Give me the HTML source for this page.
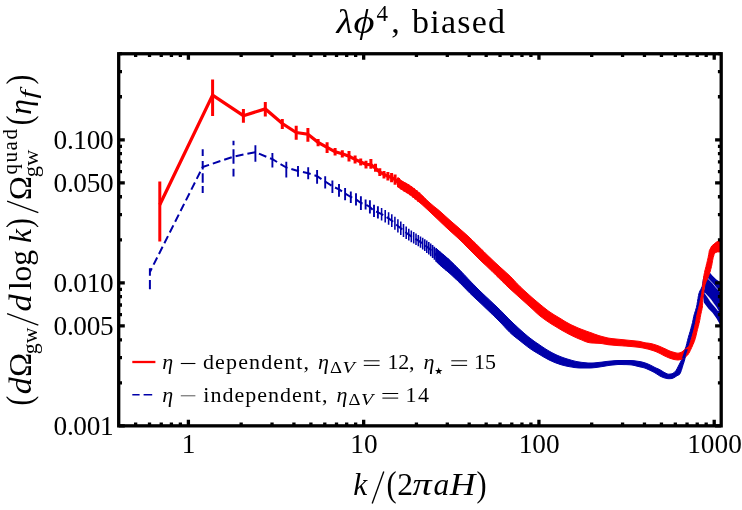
<!DOCTYPE html>
<html><head><meta charset="utf-8"><title>plot</title>
<style>html,body{margin:0;padding:0;background:#fff;}body{width:742px;height:510px;overflow:hidden;font-family:"Liberation Serif",serif;}svg{display:block;will-change:transform;}</style>
</head><body>
<svg width="742" height="510" viewBox="0 0 742 510">
<rect width="742" height="510" fill="#fff"/>
<defs><clipPath id="cp"><rect x="118.70" y="53.75" width="602.50" height="372.10"/></clipPath></defs>
<g clip-path="url(#cp)">
<path d="M149.9 272.0 L202.7 167.0 L233.5 156.6 L255.4 152.2 L272.4 159.2 L286.3 167.5 L298.0 171.0 L308.2 173.2 L317.1 176.2 L325.2 181.5 L332.4 186.2 L339.0 189.4 L345.1 193.5 L350.8 197.0 L356.0 199.4 L360.9 203.0 L365.6 204.5 L369.9 207.0 L374.0 211.0 L377.9 212.3 L381.6 214.2 L385.2 216.3 L388.6 218.4 L391.8 220.7 L394.9 223.3 L397.9 225.9 L400.8 228.3 L403.5 230.5 L406.2 232.7 L408.8 234.6 L411.3 236.4 L413.7 237.8 L416.0 239.2 L418.3 240.6 L420.5 242.1 L422.7 243.6 L424.8 245.2 L426.8 246.7 L428.8 248.3 L430.7 249.9 L432.6 251.6 L434.4 253.3 L436.2 255.0 L437.9 256.6 L439.7 258.1" fill="none" stroke="#0000a9" stroke-width="2.0" stroke-dasharray="8 4" stroke-dashoffset="3.8" stroke-linejoin="round"/>
<path d="M149.9 268.2V275.8M149.9 280.1V289.3M202.7 149.3V156.0M202.7 161.1V169.4M202.7 173.2V182.8M202.7 186.0V193.0M233.5 140.7V145.2M233.5 149.3V163.7M233.5 168.8V176.4" stroke="#0000a9" stroke-width="2.0" fill="none"/>
<path d="M255.4 145.2V161.8M272.4 152.9V167.5M286.3 161.7V177.5M298.0 166.0V176.8M308.2 167.3V179.2M317.1 170.0V183.8M325.2 176.2V188.5M332.4 180.6V193.0M339.0 184.1V196.8M345.1 188.0V200.3M350.8 191.5V203.0M356.0 193.2V205.6M360.9 196.2V210.0M365.6 199.4V209.5M369.9 200.3V213.5M374.0 204.7V217.0M377.9 206.2V218.5" stroke="#0000a9" stroke-width="1.9" fill="none"/>
<path d="M381.6 208.1V220.4M385.2 210.1V222.5M388.6 212.2V224.7M391.8 214.3V227.1M394.9 216.8V229.8M397.9 219.2V232.5M400.8 221.6V234.9M403.5 224.1V237.0M406.2 226.5V238.9M408.8 228.7V240.6M411.3 230.5V242.2M413.7 232.1V243.6M416.0 233.5V244.9M418.3 234.9V246.3M420.5 236.4V247.8M422.7 237.8V249.4M424.8 239.2V251.1M426.8 240.6V252.9M428.8 242.1V254.6M430.7 243.5V256.3M432.6 245.1V258.1M434.4 246.7V259.8M436.2 248.4V261.5M437.9 250.0V263.2M439.7 251.5V264.8M441.3 252.9V266.3M443.0 254.3V267.7M444.6 255.7V269.0M446.1 257.0V270.4M447.7 258.3V271.7M449.2 259.7V273.0" stroke="#0000a9" stroke-width="1.55" fill="none"/>
<path d="M436.0 248.2 L438.0 250.0 L440.0 251.8 L442.0 253.5 L444.0 255.2 L446.0 256.9 L448.0 258.6 L450.0 260.4 L452.0 262.3 L454.0 264.2 L456.0 266.2 L458.0 268.2 L460.0 270.2 L462.0 272.3 L464.0 274.4 L466.0 276.5 L468.0 278.7 L470.0 280.8 L472.0 282.9 L474.0 284.9 L476.0 287.0 L478.0 289.0 L480.0 291.0 L482.0 292.9 L484.0 294.8 L486.0 296.7 L488.0 298.5 L490.0 300.4 L492.0 302.3 L494.0 304.2 L496.0 306.0 L498.0 308.0 L500.0 309.9 L502.0 311.9 L504.0 314.0 L506.0 316.0 L508.0 318.1 L510.0 320.1 L512.0 322.0 L514.0 324.0 L516.0 325.8 L518.0 327.7 L520.0 329.5 L522.0 331.3 L524.0 333.1 L526.0 334.8 L528.0 336.5 L530.0 338.1 L532.0 339.6 L534.0 341.1 L536.0 342.5 L538.0 343.8 L540.0 345.2 L542.0 346.6 L544.0 347.9 L546.0 349.2 L548.0 350.4 L550.0 351.6 L552.0 352.7 L554.0 353.7 L556.0 354.7 L558.0 355.6 L560.0 356.4 L562.0 357.2 L564.0 357.9 L566.0 358.6 L568.0 359.2 L570.0 359.8 L572.0 360.4 L574.0 360.9 L576.0 361.4 L578.0 361.8 L580.0 362.1 L582.0 362.4 L584.0 362.6 L586.0 362.8 L588.0 363.0 L590.0 363.0 L592.0 363.0 L594.0 362.9 L596.0 362.7 L598.0 362.5 L600.0 362.3 L602.0 362.1 L604.0 361.8 L606.0 361.5 L608.0 361.3 L610.0 361.1 L612.0 360.9 L614.0 360.7 L616.0 360.6 L618.0 360.5 L620.0 360.5 L622.0 360.5 L624.0 360.5 L626.0 360.5 L628.0 360.5 L630.0 360.5 L632.0 360.6 L634.0 360.7 L636.0 361.0 L638.0 361.3 L640.0 361.6 L642.0 362.0 L644.0 362.6 L646.0 363.2 L648.0 364.0 L650.0 364.9 L652.0 365.9 L654.0 367.0 L656.0 368.0 L658.0 368.8 L660.0 369.8 L662.0 371.0 L664.0 372.3 L666.0 373.3 L668.0 374.2 L670.0 374.1 L672.0 373.8 L674.0 372.7 L676.0 370.5 L677.0 368.8 L681.5 360.0 L682.0 358.5 L682.4 357.0 L682.9 355.5 L683.4 354.0 L683.9 352.5 L684.4 351.0 L684.9 349.5 L685.5 348.0 L686.0 346.5 L686.4 345.0 L686.8 343.5 L687.1 342.0 L687.5 340.5 L687.9 339.0 L688.3 337.5 L688.7 336.0 L689.2 334.5 L689.6 333.0 L690.1 331.5 L690.5 330.0 L690.9 328.5 L691.3 327.0 L691.7 325.5 L692.1 324.0 L692.5 322.5 L692.8 321.0 L693.1 319.5 L693.4 318.0 L693.7 316.5 L694.1 315.0 L694.5 313.5 L695.0 312.0 L695.5 310.5 L695.9 309.0 L696.4 307.5 L696.7 306.0 L697.0 304.5 L697.2 303.0 L697.5 301.5 L697.7 300.0 L698.0 298.5 L698.2 297.0 L698.5 295.5 L698.8 294.0 L699.3 292.5 L699.9 291.0 L700.7 289.5 L701.5 288.0 L702.1 286.5 L702.5 285.0 L702.7 283.5 L702.9 282.0 L703.1 280.5 L703.4 279.0 L703.8 277.5 L704.3 276.0 L704.9 274.5 L705.9 273.0 L707.2 271.5 L709.8 271.5 L708.9 273.0 L708.0 274.5 L707.2 276.0 L706.4 277.5 L705.8 279.0 L705.4 280.5 L705.0 282.0 L704.7 283.5 L704.4 285.0 L704.0 286.5 L703.6 288.0 L703.1 289.5 L702.7 291.0 L702.3 292.5 L702.0 294.0 L701.7 295.5 L701.5 297.0 L701.3 298.5 L701.1 300.0 L700.9 301.5 L700.6 303.0 L700.4 304.5 L700.0 306.0 L699.6 307.5 L699.2 309.0 L698.7 310.5 L698.3 312.0 L697.8 313.5 L697.4 315.0 L697.0 316.5 L696.7 318.0 L696.4 319.5 L696.1 321.0 L695.8 322.5 L695.4 324.0 L695.0 325.5 L694.6 327.0 L694.2 328.5 L693.8 330.0 L693.4 331.5 L693.0 333.0 L692.5 334.5 L692.1 336.0 L691.7 337.5 L691.3 339.0 L690.8 340.5 L690.4 342.0 L689.9 343.5 L689.5 345.0 L689.0 346.5 L688.4 348.0 L687.8 349.5 L687.2 351.0 L686.7 352.5 L686.2 354.0 L685.8 355.5 L685.4 357.0 L685.0 358.5 L684.6 360.0 L684.2 361.5 L683.7 363.0 L683.2 364.5 L682.7 366.0 L682.3 367.5 L681.8 369.0 L681.3 370.5 L680.8 372.0 L680.1 373.5 L679.4 374.6 L677.0 375.7 L676.0 376.4 L674.0 377.7 L672.0 378.5 L670.0 378.7 L668.0 378.7 L666.0 378.3 L664.0 377.8 L662.0 377.0 L660.0 376.1 L658.0 374.8 L656.0 373.5 L654.0 372.3 L652.0 371.3 L650.0 370.3 L648.0 369.4 L646.0 368.5 L644.0 367.8 L642.0 367.3 L640.0 366.9 L638.0 366.4 L636.0 365.9 L634.0 365.4 L632.0 365.0 L630.0 364.8 L628.0 364.7 L626.0 364.6 L624.0 364.6 L622.0 364.5 L620.0 364.5 L618.0 364.5 L616.0 364.7 L614.0 364.9 L612.0 365.1 L610.0 365.3 L608.0 365.6 L606.0 365.9 L604.0 366.3 L602.0 366.6 L600.0 366.9 L598.0 367.2 L596.0 367.5 L594.0 367.7 L592.0 367.9 L590.0 368.0 L588.0 368.0 L586.0 368.0 L584.0 368.0 L582.0 368.0 L580.0 368.0 L578.0 367.9 L576.0 367.7 L574.0 367.5 L572.0 367.1 L570.0 366.8 L568.0 366.4 L566.0 366.0 L564.0 365.5 L562.0 365.0 L560.0 364.4 L558.0 363.7 L556.0 363.0 L554.0 362.2 L552.0 361.3 L550.0 360.4 L548.0 359.4 L546.0 358.3 L544.0 357.2 L542.0 356.0 L540.0 354.8 L538.0 353.6 L536.0 352.4 L534.0 351.2 L532.0 349.9 L530.0 348.6 L528.0 347.1 L526.0 345.6 L524.0 344.0 L522.0 342.4 L520.0 340.8 L518.0 339.2 L516.0 337.7 L514.0 336.1 L512.0 334.4 L510.0 332.6 L508.0 330.6 L506.0 328.5 L504.0 326.3 L502.0 324.1 L500.0 322.0 L498.0 320.0 L496.0 318.0 L494.0 316.1 L492.0 314.1 L490.0 312.2 L488.0 310.3 L486.0 308.4 L484.0 306.5 L482.0 304.6 L480.0 302.7 L478.0 300.8 L476.0 299.0 L474.0 297.1 L472.0 295.2 L470.0 293.3 L468.0 291.3 L466.0 289.2 L464.0 287.2 L462.0 285.1 L460.0 283.1 L458.0 281.2 L456.0 279.2 L454.0 277.4 L452.0 275.5 L450.0 273.7 L448.0 271.9 L446.0 270.2 L444.0 268.6 L442.0 266.9 L440.0 265.1 L438.0 263.3 L436.0 261.3Z" fill="#0000a9" stroke="#0000a9" stroke-width="1.0" stroke-linejoin="round"/>
<path d="M703 296 L706 279 L708.9 271.6 L712.5 275.8 L716.4 279.4 L722 283.2 L722 328 L719.5 323.7 L716.4 318.2 L712.5 312.7 L708.5 308.8 L703.8 302.5Z" fill="#0000a9"/>
<path d="M707.5 278 L712.5 283.2 L716.4 287.9 L720.5 292" stroke="#fff" stroke-width="0.7" fill="none"/>
<path d="M704.6 292.8 L708 296.3 L710.9 299.6 L714 304 L716.4 307.3 L718.4 311 L714 305.8 L710.9 302.2 L708 297.8Z" fill="#fff" stroke="#fff" stroke-width="0.5"/>
<path d="M398.0 177.4 L400.0 179.6 L402.0 181.0 L404.0 182.2 L406.0 183.3 L408.0 184.4 L410.0 185.7 L412.0 187.1 L414.0 188.6 L416.0 190.2 L418.0 191.8 L420.0 193.5 L422.0 195.3 L424.0 197.2 L426.0 199.2 L428.0 201.2 L430.0 203.0 L432.0 204.7 L434.0 206.4 L436.0 208.0 L438.0 209.6 L440.0 211.3 L442.0 213.1 L444.0 214.9 L446.0 216.7 L448.0 218.5 L450.0 220.3 L452.0 222.1 L454.0 223.8 L456.0 225.5 L458.0 227.2 L460.0 229.0 L462.0 230.8 L464.0 232.5 L466.0 234.3 L468.0 236.1 L470.0 238.0 L472.0 239.9 L474.0 241.9 L476.0 243.8 L478.0 245.8 L480.0 247.8 L482.0 249.8 L484.0 251.7 L486.0 253.7 L488.0 255.7 L490.0 257.6 L492.0 259.5 L494.0 261.4 L496.0 263.3 L498.0 265.1 L500.0 267.0 L502.0 268.8 L504.0 270.6 L506.0 272.4 L508.0 274.2 L510.0 276.1 L512.0 278.1 L514.0 280.2 L516.0 282.4 L518.0 284.5 L520.0 286.5 L522.0 288.4 L524.0 290.3 L526.0 292.1 L528.0 293.9 L530.0 295.7 L532.0 297.5 L534.0 299.2 L536.0 300.9 L538.0 302.6 L540.0 304.3 L542.0 305.9 L544.0 307.6 L546.0 309.1 L548.0 310.7 L550.0 312.1 L552.0 313.4 L554.0 314.7 L556.0 315.9 L558.0 317.1 L560.0 318.3 L562.0 319.5 L564.0 320.8 L566.0 322.0 L568.0 323.1 L570.0 324.2 L572.0 325.2 L574.0 326.1 L576.0 327.0 L578.0 327.9 L580.0 328.7 L582.0 329.5 L584.0 330.2 L586.0 331.0 L588.0 331.7 L590.0 332.4 L592.0 333.1 L594.0 333.9 L596.0 334.6 L598.0 335.3 L600.0 335.9 L602.0 336.5 L604.0 337.0 L606.0 337.5 L608.0 338.0 L610.0 338.3 L612.0 338.6 L614.0 338.8 L616.0 339.0 L618.0 339.2 L620.0 339.4 L622.0 339.6 L624.0 339.8 L626.0 340.0 L628.0 340.2 L630.0 340.4 L632.0 340.6 L634.0 340.8 L636.0 341.0 L638.0 341.2 L640.0 341.5 L642.0 342.0 L644.0 342.5 L646.0 342.9 L648.0 343.1 L650.0 343.4 L652.0 343.8 L654.0 344.4 L656.0 345.0 L658.0 345.7 L660.0 346.5 L662.0 347.4 L664.0 348.3 L666.0 349.2 L668.0 350.2 L670.0 351.1 L672.0 351.8 L674.0 352.3 L676.0 352.9 L678.0 353.2 L680.0 352.8 L682.0 351.9 L684.0 350.2 L684.2 350.0 L688.9 346.4 L689.0 346.0 L689.6 344.5 L690.1 343.0 L690.6 341.5 L691.0 340.0 L691.5 338.5 L692.0 337.0 L692.4 335.5 L692.8 334.0 L693.2 332.5 L693.6 331.0 L694.0 329.5 L694.4 328.0 L694.7 326.5 L695.0 325.0 L695.4 323.5 L695.7 322.0 L695.9 320.5 L696.2 319.0 L696.4 317.5 L696.7 316.0 L697.0 314.5 L697.4 313.0 L697.7 311.5 L698.1 310.0 L698.5 308.5 L698.9 307.0 L699.2 305.5 L699.6 304.0 L699.9 302.5 L700.2 301.0 L700.5 299.5 L700.8 298.0 L701.1 296.5 L701.4 295.0 L701.7 293.5 L701.9 292.0 L702.1 290.5 L702.3 289.0 L702.5 287.5 L702.6 286.0 L702.8 284.5 L703.0 283.0 L703.2 281.5 L703.3 280.0 L703.5 278.5 L703.7 277.0 L703.9 275.5 L704.2 274.0 L704.5 272.5 L704.8 271.0 L705.2 269.5 L705.6 268.0 L706.0 266.5 L706.3 265.0 L706.7 263.5 L707.1 262.0 L707.4 260.5 L707.8 259.0 L708.1 257.5 L708.4 256.0 L708.7 254.5 L709.0 253.0 L709.3 250.7 L711.7 246 L716.4 242.1 L719.9 240.5 L722 240.3 L722 251.9 L717.2 251.9 L714.8 253 L714.6 253.0 L714.1 254.5 L713.7 256.0 L713.2 257.5 L712.9 259.0 L712.6 260.5 L712.3 262.0 L712.1 263.5 L711.8 265.0 L711.5 266.5 L711.1 268.0 L710.7 269.5 L710.3 271.0 L709.8 272.5 L709.3 274.0 L708.8 275.5 L708.2 277.0 L707.6 278.5 L706.9 280.0 L706.2 281.5 L705.6 283.0 L705.1 284.5 L704.7 286.0 L704.4 287.5 L704.1 289.0 L703.9 290.5 L703.7 292.0 L703.5 293.5 L703.3 295.0 L703.1 296.5 L702.9 298.0 L702.7 299.5 L702.7 301.0 L702.6 302.5 L702.6 304.0 L702.5 305.5 L702.4 307.0 L702.1 308.5 L701.8 310.0 L701.5 311.5 L701.1 313.0 L700.8 314.5 L700.5 316.0 L700.2 317.5 L700.0 319.0 L699.7 320.5 L699.4 322.0 L699.0 323.5 L698.7 325.0 L698.3 326.5 L697.9 328.0 L697.5 329.5 L697.1 331.0 L696.8 332.5 L696.4 334.0 L696.1 335.5 L695.7 337.0 L695.3 338.5 L694.8 340.0 L694.3 341.5 L693.7 343.0 L693.0 344.5 L692.4 346.0 L691.7 347.5 L691.0 349.0 L690.3 350.5 L689.6 352.0 L688.7 353.5 L687.7 355.0 L686.0 356.5 L685.6 356.8 L684.2 357.8 L684.0 357.9 L682.0 359.0 L680.0 359.7 L678.0 360.0 L676.0 359.8 L674.0 359.5 L672.0 358.9 L670.0 358.3 L668.0 357.5 L666.0 356.6 L664.0 355.7 L662.0 354.6 L660.0 353.5 L658.0 352.6 L656.0 351.7 L654.0 350.9 L652.0 350.3 L650.0 349.7 L648.0 349.1 L646.0 348.7 L644.0 348.2 L642.0 347.8 L640.0 347.5 L638.0 347.2 L636.0 347.0 L634.0 346.8 L632.0 346.6 L630.0 346.4 L628.0 346.3 L626.0 346.1 L624.0 346.0 L622.0 345.8 L620.0 345.7 L618.0 345.6 L616.0 345.4 L614.0 345.3 L612.0 345.1 L610.0 344.9 L608.0 344.7 L606.0 344.3 L604.0 344.0 L602.0 343.6 L600.0 343.4 L598.0 343.3 L596.0 343.2 L594.0 343.1 L592.0 343.0 L590.0 342.8 L588.0 342.4 L586.0 341.8 L584.0 341.0 L582.0 340.1 L580.0 339.3 L578.0 338.5 L576.0 337.6 L574.0 336.7 L572.0 335.7 L570.0 334.7 L568.0 333.7 L566.0 332.6 L564.0 331.5 L562.0 330.4 L560.0 329.2 L558.0 328.0 L556.0 326.8 L554.0 325.6 L552.0 324.4 L550.0 323.1 L548.0 321.8 L546.0 320.4 L544.0 319.0 L542.0 317.5 L540.0 316.0 L538.0 314.3 L536.0 312.5 L534.0 310.6 L532.0 308.7 L530.0 306.9 L528.0 305.1 L526.0 303.3 L524.0 301.5 L522.0 299.7 L520.0 297.9 L518.0 296.1 L516.0 294.3 L514.0 292.5 L512.0 290.7 L510.0 288.9 L508.0 287.0 L506.0 285.1 L504.0 283.1 L502.0 281.2 L500.0 279.2 L498.0 277.2 L496.0 275.3 L494.0 273.3 L492.0 271.3 L490.0 269.4 L488.0 267.5 L486.0 265.6 L484.0 263.8 L482.0 261.9 L480.0 260.0 L478.0 258.0 L476.0 256.0 L474.0 254.0 L472.0 252.0 L470.0 250.0 L468.0 248.0 L466.0 246.0 L464.0 243.9 L462.0 241.9 L460.0 240.0 L458.0 238.1 L456.0 236.3 L454.0 234.5 L452.0 232.7 L450.0 230.9 L448.0 229.0 L446.0 227.2 L444.0 225.3 L442.0 223.4 L440.0 221.5 L438.0 219.6 L436.0 217.7 L434.0 215.8 L432.0 213.9 L430.0 212.0 L428.0 210.1 L426.0 208.3 L424.0 206.4 L422.0 204.6 L420.0 202.9 L418.0 201.2 L416.0 199.5 L414.0 197.9 L412.0 196.3 L410.0 194.8 L408.0 193.4 L406.0 192.2 L404.0 191.0 L402.0 189.7 L400.0 188.4 L398.0 186.9Z" fill="#ff0000" stroke="#ff0000" stroke-width="1.0" stroke-linejoin="round"/>
<clipPath id="cx"><rect x="670" y="349.3" width="30" height="9.2"/></clipPath>
<path d="M436.0 248.2 L438.0 250.0 L440.0 251.8 L442.0 253.5 L444.0 255.2 L446.0 256.9 L448.0 258.6 L450.0 260.4 L452.0 262.3 L454.0 264.2 L456.0 266.2 L458.0 268.2 L460.0 270.2 L462.0 272.3 L464.0 274.4 L466.0 276.5 L468.0 278.7 L470.0 280.8 L472.0 282.9 L474.0 284.9 L476.0 287.0 L478.0 289.0 L480.0 291.0 L482.0 292.9 L484.0 294.8 L486.0 296.7 L488.0 298.5 L490.0 300.4 L492.0 302.3 L494.0 304.2 L496.0 306.0 L498.0 308.0 L500.0 309.9 L502.0 311.9 L504.0 314.0 L506.0 316.0 L508.0 318.1 L510.0 320.1 L512.0 322.0 L514.0 324.0 L516.0 325.8 L518.0 327.7 L520.0 329.5 L522.0 331.3 L524.0 333.1 L526.0 334.8 L528.0 336.5 L530.0 338.1 L532.0 339.6 L534.0 341.1 L536.0 342.5 L538.0 343.8 L540.0 345.2 L542.0 346.6 L544.0 347.9 L546.0 349.2 L548.0 350.4 L550.0 351.6 L552.0 352.7 L554.0 353.7 L556.0 354.7 L558.0 355.6 L560.0 356.4 L562.0 357.2 L564.0 357.9 L566.0 358.6 L568.0 359.2 L570.0 359.8 L572.0 360.4 L574.0 360.9 L576.0 361.4 L578.0 361.8 L580.0 362.1 L582.0 362.4 L584.0 362.6 L586.0 362.8 L588.0 363.0 L590.0 363.0 L592.0 363.0 L594.0 362.9 L596.0 362.7 L598.0 362.5 L600.0 362.3 L602.0 362.1 L604.0 361.8 L606.0 361.5 L608.0 361.3 L610.0 361.1 L612.0 360.9 L614.0 360.7 L616.0 360.6 L618.0 360.5 L620.0 360.5 L622.0 360.5 L624.0 360.5 L626.0 360.5 L628.0 360.5 L630.0 360.5 L632.0 360.6 L634.0 360.7 L636.0 361.0 L638.0 361.3 L640.0 361.6 L642.0 362.0 L644.0 362.6 L646.0 363.2 L648.0 364.0 L650.0 364.9 L652.0 365.9 L654.0 367.0 L656.0 368.0 L658.0 368.8 L660.0 369.8 L662.0 371.0 L664.0 372.3 L666.0 373.3 L668.0 374.2 L670.0 374.1 L672.0 373.8 L674.0 372.7 L676.0 370.5 L677.0 368.8 L681.5 360.0 L682.0 358.5 L682.4 357.0 L682.9 355.5 L683.4 354.0 L683.9 352.5 L684.4 351.0 L684.9 349.5 L685.5 348.0 L686.0 346.5 L686.4 345.0 L686.8 343.5 L687.1 342.0 L687.5 340.5 L687.9 339.0 L688.3 337.5 L688.7 336.0 L689.2 334.5 L689.6 333.0 L690.1 331.5 L690.5 330.0 L690.9 328.5 L691.3 327.0 L691.7 325.5 L692.1 324.0 L692.5 322.5 L692.8 321.0 L693.1 319.5 L693.4 318.0 L693.7 316.5 L694.1 315.0 L694.5 313.5 L695.0 312.0 L695.5 310.5 L695.9 309.0 L696.4 307.5 L696.7 306.0 L697.0 304.5 L697.2 303.0 L697.5 301.5 L697.7 300.0 L698.0 298.5 L698.2 297.0 L698.5 295.5 L698.8 294.0 L699.3 292.5 L699.9 291.0 L700.7 289.5 L701.5 288.0 L702.1 286.5 L702.5 285.0 L702.7 283.5 L702.9 282.0 L703.1 280.5 L703.4 279.0 L703.8 277.5 L704.3 276.0 L704.9 274.5 L705.9 273.0 L707.2 271.5 L709.8 271.5 L708.9 273.0 L708.0 274.5 L707.2 276.0 L706.4 277.5 L705.8 279.0 L705.4 280.5 L705.0 282.0 L704.7 283.5 L704.4 285.0 L704.0 286.5 L703.6 288.0 L703.1 289.5 L702.7 291.0 L702.3 292.5 L702.0 294.0 L701.7 295.5 L701.5 297.0 L701.3 298.5 L701.1 300.0 L700.9 301.5 L700.6 303.0 L700.4 304.5 L700.0 306.0 L699.6 307.5 L699.2 309.0 L698.7 310.5 L698.3 312.0 L697.8 313.5 L697.4 315.0 L697.0 316.5 L696.7 318.0 L696.4 319.5 L696.1 321.0 L695.8 322.5 L695.4 324.0 L695.0 325.5 L694.6 327.0 L694.2 328.5 L693.8 330.0 L693.4 331.5 L693.0 333.0 L692.5 334.5 L692.1 336.0 L691.7 337.5 L691.3 339.0 L690.8 340.5 L690.4 342.0 L689.9 343.5 L689.5 345.0 L689.0 346.5 L688.4 348.0 L687.8 349.5 L687.2 351.0 L686.7 352.5 L686.2 354.0 L685.8 355.5 L685.4 357.0 L685.0 358.5 L684.6 360.0 L684.2 361.5 L683.7 363.0 L683.2 364.5 L682.7 366.0 L682.3 367.5 L681.8 369.0 L681.3 370.5 L680.8 372.0 L680.1 373.5 L679.4 374.6 L677.0 375.7 L676.0 376.4 L674.0 377.7 L672.0 378.5 L670.0 378.7 L668.0 378.7 L666.0 378.3 L664.0 377.8 L662.0 377.0 L660.0 376.1 L658.0 374.8 L656.0 373.5 L654.0 372.3 L652.0 371.3 L650.0 370.3 L648.0 369.4 L646.0 368.5 L644.0 367.8 L642.0 367.3 L640.0 366.9 L638.0 366.4 L636.0 365.9 L634.0 365.4 L632.0 365.0 L630.0 364.8 L628.0 364.7 L626.0 364.6 L624.0 364.6 L622.0 364.5 L620.0 364.5 L618.0 364.5 L616.0 364.7 L614.0 364.9 L612.0 365.1 L610.0 365.3 L608.0 365.6 L606.0 365.9 L604.0 366.3 L602.0 366.6 L600.0 366.9 L598.0 367.2 L596.0 367.5 L594.0 367.7 L592.0 367.9 L590.0 368.0 L588.0 368.0 L586.0 368.0 L584.0 368.0 L582.0 368.0 L580.0 368.0 L578.0 367.9 L576.0 367.7 L574.0 367.5 L572.0 367.1 L570.0 366.8 L568.0 366.4 L566.0 366.0 L564.0 365.5 L562.0 365.0 L560.0 364.4 L558.0 363.7 L556.0 363.0 L554.0 362.2 L552.0 361.3 L550.0 360.4 L548.0 359.4 L546.0 358.3 L544.0 357.2 L542.0 356.0 L540.0 354.8 L538.0 353.6 L536.0 352.4 L534.0 351.2 L532.0 349.9 L530.0 348.6 L528.0 347.1 L526.0 345.6 L524.0 344.0 L522.0 342.4 L520.0 340.8 L518.0 339.2 L516.0 337.7 L514.0 336.1 L512.0 334.4 L510.0 332.6 L508.0 330.6 L506.0 328.5 L504.0 326.3 L502.0 324.1 L500.0 322.0 L498.0 320.0 L496.0 318.0 L494.0 316.1 L492.0 314.1 L490.0 312.2 L488.0 310.3 L486.0 308.4 L484.0 306.5 L482.0 304.6 L480.0 302.7 L478.0 300.8 L476.0 299.0 L474.0 297.1 L472.0 295.2 L470.0 293.3 L468.0 291.3 L466.0 289.2 L464.0 287.2 L462.0 285.1 L460.0 283.1 L458.0 281.2 L456.0 279.2 L454.0 277.4 L452.0 275.5 L450.0 273.7 L448.0 271.9 L446.0 270.2 L444.0 268.6 L442.0 266.9 L440.0 265.1 L438.0 263.3 L436.0 261.3Z" fill="#0000a9" clip-path="url(#cx)"/>
<path d="M159.8 181.6V241.4M212.6 79.5V115.9M243.4 108.9V122.7M265.3 102.1V116.4M282.3 119.0V129.0M296.2 125.7V139.8M307.9 128.0V141.7M318.1 139.1V146.2M327.1 142.3V152.9M335.1 147.9V155.5M342.3 150.2V157.6M349.0 151.1V161.5M355.1 155.5V163.5M360.7 158.5V165.6M366.0 160.8V168.6M370.9 159.0V168.8M375.5 163.8V171.8M379.8 168.3V175.9M384.0 170.9V178.5M387.9 172.0V180.4M391.6 172.9V182.2M395.1 174.4V184.7M398.5 178.1V187.3M401.7 180.9V189.6M404.8 182.7V191.5M407.8 184.3V193.3M410.7 186.2V195.3M413.5 188.2V197.4M416.1 190.3V199.6M418.7 192.4V201.8" stroke="#ff0000" stroke-width="3.0" fill="none"/>
<path d="M159.8 204.8 L212.6 95.1 L243.4 115.7 L265.3 108.9 L282.3 123.5 L296.2 132.5 L307.9 134.2 L318.1 142.3 L327.1 147.4 L335.1 151.8 L342.3 153.8 L349.0 156.2 L355.1 159.4 L360.7 162.0 L366.0 164.3 L370.9 164.6 L375.5 168.2 L379.8 172.1 L384.0 174.4 L387.9 176.2 L391.6 177.6 L395.1 179.5 L398.5 182.7 L401.7 185.2 L404.8 187.1 L407.8 188.8 L410.7 190.7 L413.5 192.8 L416.1 195.0 L418.7 197.1" fill="none" stroke="#ff0000" stroke-width="3.25" stroke-linejoin="miter"/>
</g>
<rect x="118.7" y="53.75" width="602.5" height="372.1" fill="none" stroke="#000" stroke-width="3.3"/>
<path d="M135.64 425.85v-3.3M135.64 53.75v3.3M149.52 425.85v-3.3M149.52 53.75v3.3M161.25 425.85v-3.3M161.25 53.75v3.3M171.41 425.85v-3.3M171.41 53.75v3.3M180.38 425.85v-3.3M180.38 53.75v3.3M188.40 425.85v-6.1M188.40 53.75v6.1M241.16 425.85v-3.3M241.16 53.75v3.3M272.03 425.85v-3.3M272.03 53.75v3.3M293.92 425.85v-3.3M293.92 53.75v3.3M310.91 425.85v-3.3M310.91 53.75v3.3M324.79 425.85v-3.3M324.79 53.75v3.3M336.52 425.85v-3.3M336.52 53.75v3.3M346.68 425.85v-3.3M346.68 53.75v3.3M355.65 425.85v-3.3M355.65 53.75v3.3M363.67 425.85v-6.1M363.67 53.75v6.1M416.43 425.85v-3.3M416.43 53.75v3.3M447.30 425.85v-3.3M447.30 53.75v3.3M469.19 425.85v-3.3M469.19 53.75v3.3M486.18 425.85v-3.3M486.18 53.75v3.3M500.06 425.85v-3.3M500.06 53.75v3.3M511.79 425.85v-3.3M511.79 53.75v3.3M521.95 425.85v-3.3M521.95 53.75v3.3M530.92 425.85v-3.3M530.92 53.75v3.3M538.94 425.85v-6.1M538.94 53.75v6.1M591.70 425.85v-3.3M591.70 53.75v3.3M622.57 425.85v-3.3M622.57 53.75v3.3M644.46 425.85v-3.3M644.46 53.75v3.3M661.45 425.85v-3.3M661.45 53.75v3.3M675.33 425.85v-3.3M675.33 53.75v3.3M687.06 425.85v-3.3M687.06 53.75v3.3M697.22 425.85v-3.3M697.22 53.75v3.3M706.19 425.85v-3.3M706.19 53.75v3.3M714.21 425.85v-6.1M714.21 53.75v6.1M118.7 425.90h6.1M721.2 425.90h-6.1M118.7 382.84h3.3M721.2 382.84h-3.3M118.7 357.65h3.3M721.2 357.65h-3.3M118.7 339.78h3.3M721.2 339.78h-3.3M118.7 325.91h6.1M721.2 325.91h-6.1M118.7 314.59h3.3M721.2 314.59h-3.3M118.7 305.01h3.3M721.2 305.01h-3.3M118.7 296.71h3.3M721.2 296.71h-3.3M118.7 289.40h3.3M721.2 289.40h-3.3M118.7 282.85h6.1M721.2 282.85h-6.1M118.7 239.79h3.3M721.2 239.79h-3.3M118.7 214.60h3.3M721.2 214.60h-3.3M118.7 196.73h3.3M721.2 196.73h-3.3M118.7 182.86h6.1M721.2 182.86h-6.1M118.7 171.54h3.3M721.2 171.54h-3.3M118.7 161.96h3.3M721.2 161.96h-3.3M118.7 153.66h3.3M721.2 153.66h-3.3M118.7 146.35h3.3M721.2 146.35h-3.3M118.7 139.80h6.1M721.2 139.80h-6.1M118.7 96.74h3.3M721.2 96.74h-3.3M118.7 71.55h3.3M721.2 71.55h-3.3M118.7 53.68h3.3M721.2 53.68h-3.3" stroke="#000" stroke-width="3.3" fill="none"/>
<text x="113.6" y="148.6" font-size="27.3" text-anchor="end" font-family="Liberation Serif, serif" textLength="60" lengthAdjust="spacing">0.100</text>
<text x="113.6" y="191.7" font-size="27.3" text-anchor="end" font-family="Liberation Serif, serif" textLength="60" lengthAdjust="spacing">0.050</text>
<text x="113.6" y="291.7" font-size="27.3" text-anchor="end" font-family="Liberation Serif, serif" textLength="60" lengthAdjust="spacing">0.010</text>
<text x="113.6" y="334.7" font-size="27.3" text-anchor="end" font-family="Liberation Serif, serif" textLength="60" lengthAdjust="spacing">0.005</text>
<text x="113.6" y="434.7" font-size="27.3" text-anchor="end" font-family="Liberation Serif, serif" textLength="60" lengthAdjust="spacing">0.001</text>
<text x="188.7" y="453.3" font-size="27.3" text-anchor="middle" font-family="Liberation Serif, serif" >1</text>
<text x="364.0" y="453.3" font-size="27.3" text-anchor="middle" font-family="Liberation Serif, serif" >10</text>
<text x="539.2" y="453.3" font-size="27.3" text-anchor="middle" font-family="Liberation Serif, serif" >100</text>
<text x="714.5" y="453.3" font-size="27.3" text-anchor="middle" font-family="Liberation Serif, serif" >1000</text>
<text x="336.6" y="32.6" font-size="34" text-anchor="start" font-family="Liberation Serif, serif" font-style="italic" textLength="16.3" lengthAdjust="spacingAndGlyphs">λ</text>
<text x="353.6" y="32.6" font-size="34" text-anchor="start" font-family="Liberation Serif, serif" font-style="italic" textLength="21" lengthAdjust="spacingAndGlyphs">ϕ</text>
<text x="376.6" y="21.2" font-size="23" text-anchor="start" font-family="Liberation Serif, serif" >4</text>
<text x="391.3" y="32.6" font-size="34" text-anchor="start" font-family="Liberation Serif, serif" >,</text>
<text x="412" y="32.6" font-size="34" text-anchor="start" font-family="Liberation Serif, serif" textLength="93" lengthAdjust="spacing">biased</text>
<text x="353.2" y="494.6" font-size="31.5" text-anchor="start" font-family="Liberation Serif, serif" font-style="italic" >k</text>
<path d="M372.2 503.5 L383.8 471.5" stroke="#000" stroke-width="1.35" fill="none"/>
<text x="386.4" y="495.6" font-size="36" text-anchor="start" font-family="Liberation Serif, serif" textLength="10.1" lengthAdjust="spacingAndGlyphs">(</text>
<text x="397.2" y="494.6" font-size="31.5" text-anchor="start" font-family="Liberation Serif, serif" >2</text>
<text x="412.6" y="494.6" font-size="31.5" text-anchor="start" font-family="Liberation Serif, serif" font-style="italic" textLength="19.2" lengthAdjust="spacingAndGlyphs">π</text>
<text x="433.4" y="494.6" font-size="31.5" text-anchor="start" font-family="Liberation Serif, serif" font-style="italic" >a</text>
<text x="449.8" y="494.6" font-size="31.5" text-anchor="start" font-family="Liberation Serif, serif" font-style="italic" textLength="25.6" lengthAdjust="spacingAndGlyphs">H</text>
<text x="476.6" y="495.6" font-size="36" text-anchor="start" font-family="Liberation Serif, serif" textLength="10.1" lengthAdjust="spacingAndGlyphs">)</text>
<path d="M132.3 362H155.4" stroke="#ff0000" stroke-width="2.3"/>
<path d="M132.3 394.7H139.6M143.6 394.7H152.2" stroke="#0000a9" stroke-width="1.5"/>
<text x="162.3" y="369" font-size="22" text-anchor="start" font-family="Liberation Serif, serif" font-style="italic" >η</text>
<path d="M180.8 363.5h14.6" stroke="#000" stroke-width="1.1"/>
<text x="203" y="369" font-size="22" text-anchor="start" font-family="Liberation Serif, serif" textLength="106" lengthAdjust="spacing">dependent,</text>
<text x="318" y="369" font-size="22" text-anchor="start" font-family="Liberation Serif, serif" font-style="italic" >η</text>
<text x="330" y="372.7" font-size="16.2" text-anchor="start" font-family="Liberation Serif, serif" textLength="12" lengthAdjust="spacingAndGlyphs">Δ</text>
<text x="342.4" y="372.7" font-size="16.2" text-anchor="start" font-family="Liberation Serif, serif" font-style="italic" textLength="12.2" lengthAdjust="spacingAndGlyphs">V</text>
<path d="M363.8 360.8h15.8M363.8 365.4h15.8" stroke="#000" stroke-width="1"/>
<text x="387.6" y="369" font-size="22" text-anchor="start" font-family="Liberation Serif, serif" textLength="27" lengthAdjust="spacing">12,</text>
<text x="423.4" y="369" font-size="22" text-anchor="start" font-family="Liberation Serif, serif" font-style="italic" >η</text>
<polygon points="438.70,367.30 439.62,369.94 442.41,369.99 440.18,371.68 440.99,374.36 438.70,372.76 436.41,374.36 437.22,371.68 434.99,369.99 437.78,369.94" fill="#000"/>
<path d="M451.3 360.8h15.8M451.3 365.4h15.8" stroke="#000" stroke-width="1"/>
<text x="474" y="369" font-size="22" text-anchor="start" font-family="Liberation Serif, serif" textLength="22" lengthAdjust="spacing">15</text>
<text x="162.3" y="401.7" font-size="22" text-anchor="start" font-family="Liberation Serif, serif" font-style="italic" >η</text>
<path d="M180.8 395.8h14.6" stroke="#444" stroke-width="0.9"/>
<text x="203.3" y="401.7" font-size="22" text-anchor="start" font-family="Liberation Serif, serif" textLength="124.2" lengthAdjust="spacing">independent,</text>
<text x="336.6" y="401.7" font-size="22" text-anchor="start" font-family="Liberation Serif, serif" font-style="italic" >η</text>
<text x="348.6" y="405.4" font-size="16.2" text-anchor="start" font-family="Liberation Serif, serif" textLength="12" lengthAdjust="spacingAndGlyphs">Δ</text>
<text x="361.0" y="405.4" font-size="16.2" text-anchor="start" font-family="Liberation Serif, serif" font-style="italic" textLength="12.2" lengthAdjust="spacingAndGlyphs">V</text>
<path d="M382.4 393.5h15.8M382.4 398.09999999999997h15.8" stroke="#000" stroke-width="1"/>
<text x="405.6" y="401.7" font-size="22" text-anchor="start" font-family="Liberation Serif, serif" textLength="23.5" lengthAdjust="spacing">14</text>
<g transform="translate(31.4,405.5) rotate(-90)">
<text x="0.0" y="0" font-size="35" text-anchor="start" font-family="Liberation Serif, serif" textLength="9.8" lengthAdjust="spacingAndGlyphs">(</text>
<text x="11.3" y="0" font-size="31.5" text-anchor="start" font-family="Liberation Serif, serif" font-style="italic" textLength="17.0" lengthAdjust="spacingAndGlyphs">d</text>
<text x="28.4" y="0" font-size="32.5" text-anchor="start" font-family="Liberation Serif, serif" >Ω</text>
<text x="51.3" y="5.3" font-size="21" text-anchor="start" font-family="Liberation Serif, serif" textLength="26.5" lengthAdjust="spacingAndGlyphs">gw</text>
<path d="M80.4 6.9 L91.8 -24.3" stroke="#000" stroke-width="1.35" fill="none"/>
<text x="94.0" y="0" font-size="31.5" text-anchor="start" font-family="Liberation Serif, serif" font-style="italic" textLength="17.1" lengthAdjust="spacingAndGlyphs">d</text>
<text x="115.5" y="0" font-size="31.5" text-anchor="start" font-family="Liberation Serif, serif" textLength="40" lengthAdjust="spacing">log</text>
<text x="162.5" y="0" font-size="31.5" text-anchor="start" font-family="Liberation Serif, serif" font-style="italic" >k</text>
<text x="177.5" y="0" font-size="35" text-anchor="start" font-family="Liberation Serif, serif" textLength="9.8" lengthAdjust="spacingAndGlyphs">)</text>
<path d="M192.9 6.9 L204.4 -24.3" stroke="#000" stroke-width="1.35" fill="none"/>
<text x="205.3" y="0" font-size="32.5" text-anchor="start" font-family="Liberation Serif, serif" >Ω</text>
<text x="231.0" y="-14.7" font-size="21" text-anchor="start" font-family="Liberation Serif, serif" textLength="45.5" lengthAdjust="spacing">quad</text>
<text x="228.3" y="7" font-size="21" text-anchor="start" font-family="Liberation Serif, serif" textLength="27.5" lengthAdjust="spacingAndGlyphs">gw</text>
<text x="280.3" y="0" font-size="35" text-anchor="start" font-family="Liberation Serif, serif" textLength="9.8" lengthAdjust="spacingAndGlyphs">(</text>
<text x="290.8" y="0" font-size="31.5" text-anchor="start" font-family="Liberation Serif, serif" font-style="italic" >η</text>
<text x="307.0" y="5" font-size="24" text-anchor="start" font-family="Liberation Serif, serif" font-style="italic" textLength="8.5" lengthAdjust="spacingAndGlyphs">f</text>
<text x="320.9" y="0" font-size="35" text-anchor="start" font-family="Liberation Serif, serif" textLength="9.8" lengthAdjust="spacingAndGlyphs">)</text>
</g>
</svg>
</body></html>
